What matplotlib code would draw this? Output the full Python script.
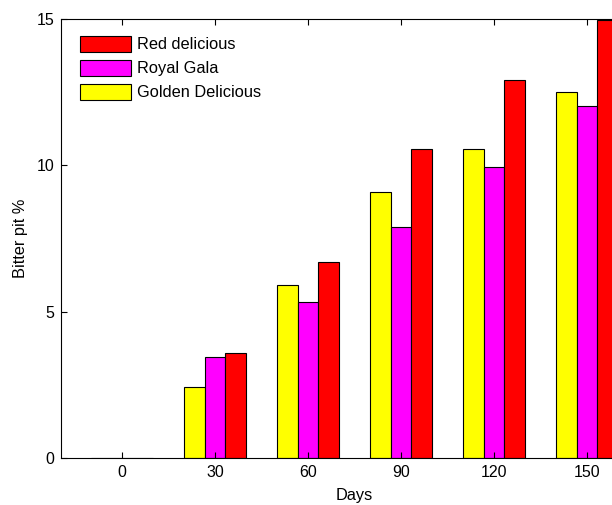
import numpy as np
from matplotlib import pyplot as plt

plt.rcParams['font.family'] = ['Liberation Sans', 'DejaVu Sans']

days = ["0", "30", "60", "90", "120", "150"]
golden = [0.0, 2.44, 5.90, 9.10, 10.55, 12.51]
gala = [0.0, 3.44, 5.32, 7.90, 9.95, 12.03]
red = [0.0, 3.58, 6.70, 10.55, 12.90, 14.95]

series = [
    ("Golden Delicious", golden, "#ffff00"),
    ("Royal Gala", gala, "#ff00ff"),
    ("Red delicious", red, "#ff0000"),
]


def main():
    fig = plt.figure(figsize=(6.12, 5.05), dpi=100)
    margin = 0.656
    span = len(days) - 1 + 2 * margin
    ax = fig.add_axes([61 / 612, 47 / 505, span * 93 / 612, 439 / 505])

    x = np.arange(1, len(days) + 1)
    width = 0.671 / 3
    handles = {}
    for i, (name, vals, color) in enumerate(series):
        bars = ax.bar(x + (i - 1) * width, vals, width, color=color,
                      edgecolor="black", linewidth=0.8, label=name)
        handles[name] = bars

    ax.set_xlim(1 - margin, len(days) + margin)
    ax.set_ylim(0, 15)
    ax.set_xticks(x)
    ax.set_xticklabels(days)
    ax.set_yticks([0, 5, 10, 15])
    ax.tick_params(direction="in", top=True, right=True, labelsize=11.5,
                   length=4, width=0.8, pad=5)
    ax.set_xlabel("Days", fontsize=11.8, labelpad=6)
    ax.set_ylabel("Bitter pit %", fontsize=11.8, labelpad=6)

    order = ["Red delicious", "Royal Gala", "Golden Delicious"]
    ax.legend([handles[n] for n in order], order, loc="upper left",
              frameon=False, fontsize=11.8, handlelength=3.16,
              handleheight=1.11, labelspacing=0.45, handletextpad=0.36,
              bbox_to_anchor=(0.0066, 0.995))

    fig.savefig("out.png", dpi=100)


if __name__ == "__main__":
    main()
